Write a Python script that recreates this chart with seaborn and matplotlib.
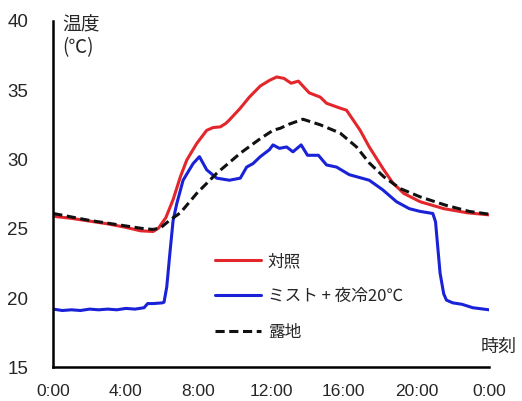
import matplotlib
matplotlib.use('Agg')
import matplotlib.pyplot as plt
import pandas as pd
import seaborn as sns

# 対照 (control)
red_h = [0, 1, 2, 3, 4, 4.8, 5.5, 5.8, 6.2, 6.6, 7.0, 7.35, 7.9, 8.45, 8.8, 9.2, 9.5, 9.7,
         10.3, 10.8, 11.4, 11.9, 12.3, 12.7, 13.1, 13.5, 13.85, 14.1, 14.7, 15.05, 15.8,
         16.15, 16.9, 17.4, 18.2, 18.7, 19.3, 20.2, 21.5, 22.8, 24]
red_t = [25.9, 25.75, 25.55, 25.35, 25.1, 24.85, 24.8, 25.05, 25.8, 27.1, 28.75, 29.95,
         31.15, 32.1, 32.3, 32.35, 32.6, 32.85, 33.7, 34.5, 35.3, 35.7, 35.95, 35.85, 35.5,
         35.65, 35.15, 34.8, 34.5, 34.05, 33.7, 33.55, 32.1, 30.9, 29.25, 28.3, 27.55,
         26.95, 26.45, 26.15, 26.0]

# ミスト + 夜冷20℃
blue_h = [0, 0.5, 1, 1.5, 2, 2.5, 3, 3.5, 4, 4.5, 5.0, 5.2, 5.5, 6.0, 6.1, 6.25, 6.42,
          6.6, 6.8, 7.15, 7.7, 8.05, 8.45, 9.0, 9.7, 10.3, 10.65, 11.0, 11.4, 11.9, 12.1,
          12.45, 12.85, 13.2, 13.65, 14.0, 14.6, 15.05, 15.6, 16.3, 17.4, 18.15, 18.9,
          19.6, 20.2, 20.9, 21.05, 21.15, 21.3, 21.5, 21.65, 22.0, 22.5, 23.1, 24]
blue_t = [19.2, 19.1, 19.15, 19.1, 19.2, 19.15, 19.2, 19.15, 19.25, 19.2, 19.3, 19.6,
          19.6, 19.65, 19.7, 20.8, 23.2, 25.6, 26.8, 28.5, 29.7, 30.2, 29.25, 28.65, 28.5,
          28.65, 29.45, 29.7, 30.2, 30.7, 31.05, 30.8, 30.9, 30.55, 31.05, 30.3, 30.3,
          29.6, 29.45, 28.9, 28.5, 27.8, 26.95, 26.45, 26.25, 26.1, 25.5, 24.0, 21.8, 20.3,
          19.85, 19.65, 19.55, 19.3, 19.15]

# 露地 (open field)
dash_h = [0, 1, 2, 3, 4, 5, 5.5, 5.9, 6.4, 7.0, 7.9, 9.0, 10.3, 11.4, 12.1, 12.5, 13.0,
          13.75, 14.7, 15.8, 16.7, 17.4, 18.2, 19.1, 20.2, 21.6, 22.9, 24]
dash_t = [26.1, 25.85, 25.6, 25.4, 25.2, 25.0, 24.95, 25.05, 25.6, 26.15, 27.55, 29.0,
          30.45, 31.5, 32.1, 32.25, 32.55, 32.9, 32.5, 31.9, 30.9, 29.75, 28.75, 27.9,
          27.3, 26.7, 26.25, 26.05]

labels = ['対照', 'ミスト + 夜冷20℃', '露地']
xticks = [0, 4, 8, 12, 16, 20, 24]
xticklabels = ['0:00', '4:00', '8:00', '12:00', '16:00', '20:00', '0:00']
yticks = [15, 20, 25, 30, 35, 40]

sns.set_style('white')
plt.rcParams['font.family'] = ['Liberation Sans', 'Noto Sans CJK JP', 'DejaVu Sans']
jp = ['Noto Sans CJK JP', 'DejaVu Sans']

fig = plt.figure(figsize=(5.22, 4.01), dpi=100)
ax = fig.add_axes([0.102, 0.084, 0.835, 0.864])

sns.lineplot(x=red_h, y=red_t, ax=ax, color='#e3262b', lw=2.2, label=labels[0])
sns.lineplot(x=blue_h, y=blue_t, ax=ax, color='#1a22d8', lw=2.2, label=labels[1])
sns.lineplot(x=dash_h, y=dash_t, ax=ax, color='#111111', lw=2.2, label=labels[2],
             dashes=False)
ax.lines[2].set_dashes((3.0, 1.5))

ax.set_xlim(0, 24)
ax.set_ylim(15, 40)
ax.set_xticks(xticks)
ax.set_xticklabels(xticklabels, fontsize=12.5)
ax.set_yticks(yticks)
ax.set_yticklabels([str(v) for v in yticks], fontsize=13.5)
ax.tick_params(axis='x', direction='out', length=5, width=1.5, pad=7, color='black')
ax.tick_params(axis='y', direction='out', length=4, width=1.5, pad=14, color='black')
for s in ['top', 'right']:
    ax.spines[s].set_visible(False)
for s in ['left', 'bottom']:
    ax.spines[s].set_color('black')
    ax.spines[s].set_linewidth(1.8)

ax.legend(loc='upper left', bbox_to_anchor=(0.37, 0.33), frameon=False,
          prop={'family': jp, 'size': 12}, handlelength=2.8, handletextpad=0.4,
          labelspacing=1.1, borderpad=0, borderaxespad=0)

fig.text(0.119, 0.965, '温度\n(℃)', family=jp, fontsize=13.5, va='top', ha='left',
         linespacing=1.1)
fig.text(0.99, 0.135, '時刻', family=jp, fontsize=13, va='center', ha='right')

fig.savefig('out.png', dpi=100)
